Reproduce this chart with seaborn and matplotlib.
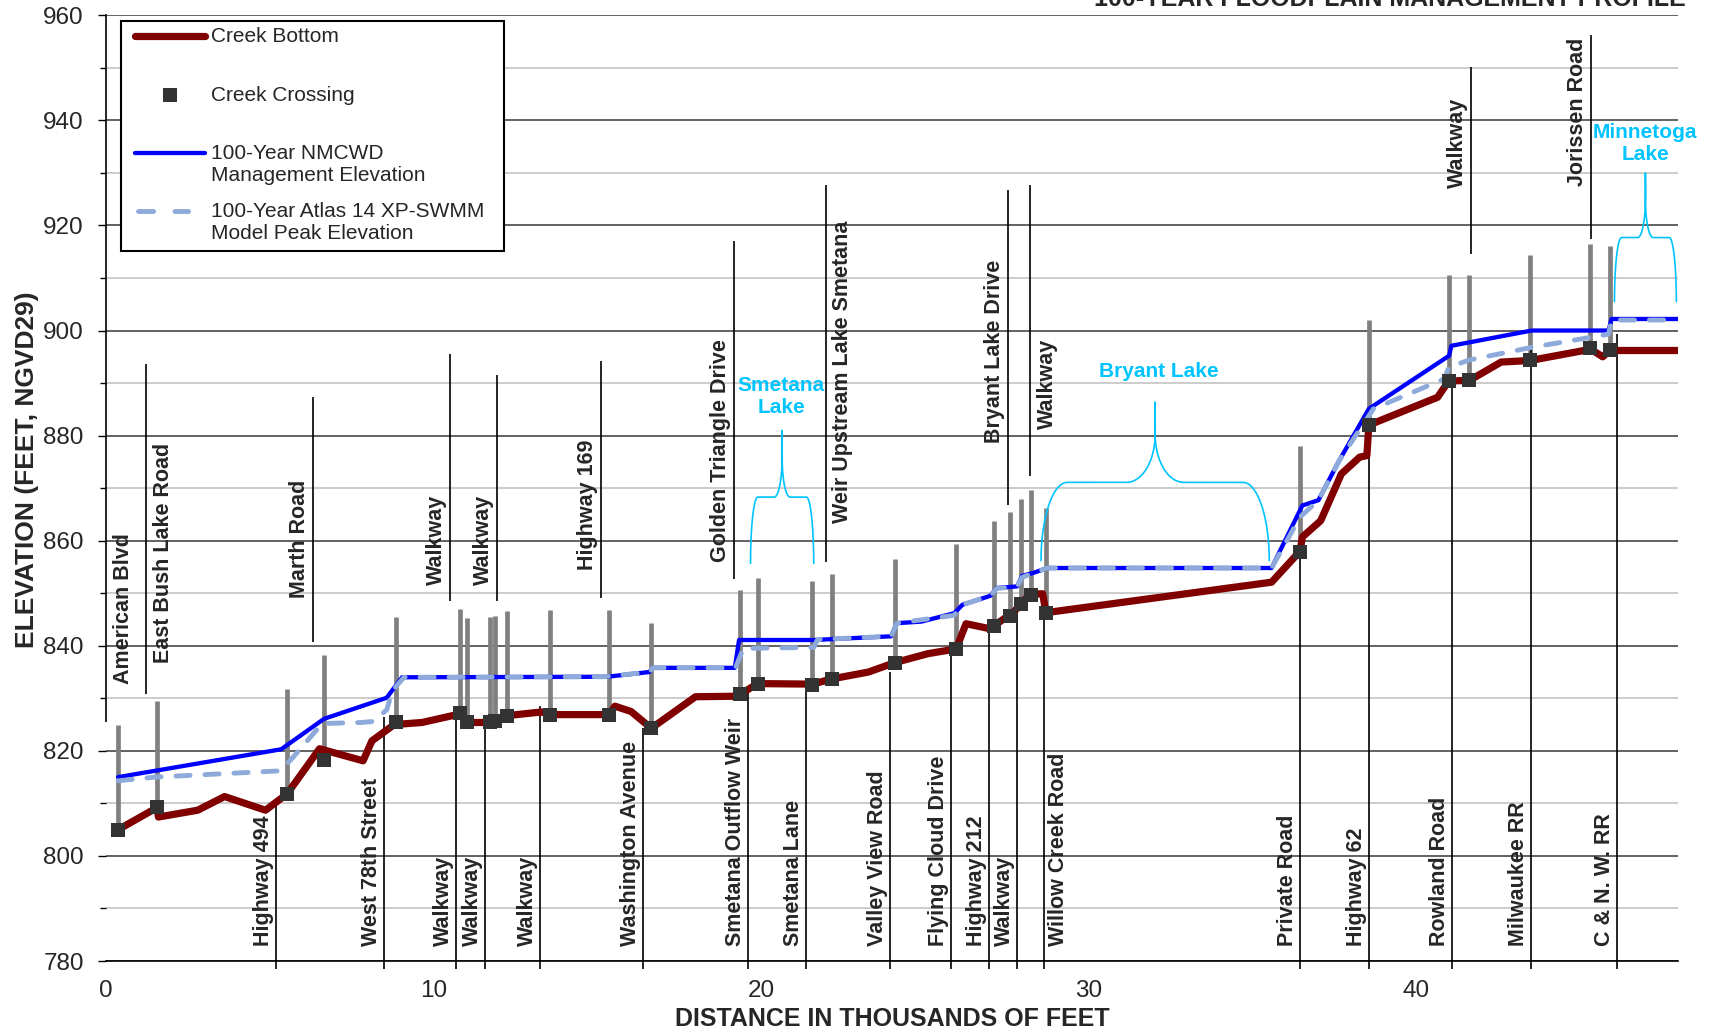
import numpy as np
import pandas as pd
import matplotlib
matplotlib.use("Agg")
import matplotlib.pyplot as plt
import seaborn as sns
from matplotlib.lines import Line2D
from matplotlib.patches import Rectangle
from matplotlib.ticker import MultipleLocator

# ---------------- profile data (distance in 1000 ft, elevation in ft NGVD29) ----------------
bottom_x = [0.37, 1.56, 1.60, 2.80, 3.62, 4.87, 5.53, 6.52, 7.85, 8.12, 8.80, 9.65, 10.65, 10.80,
            11.03, 11.73, 11.87, 12.24, 13.30, 13.55, 15.36, 15.54, 16.03, 16.65, 18.00, 19.33,
            19.37, 19.90, 21.57, 22.17, 23.28, 24.09, 25.10, 25.96, 26.26, 27.02, 27.12, 27.50,
            27.61, 27.93, 28.20, 28.60, 28.70, 35.59, 36.46, 36.53, 37.09, 37.72, 38.28, 38.50,
            38.56, 40.66, 41.00, 41.63, 42.60, 43.49, 45.13, 45.30, 45.70, 45.92, 48.00]
bottom_y = [805.0, 809.2, 807.4, 808.7, 811.3, 808.7, 811.8, 820.4, 818.1, 821.9, 825.0, 825.4,
            826.8, 827.2, 825.4, 825.4, 825.7, 826.7, 827.4, 826.9, 826.9, 828.5, 827.5, 824.3,
            830.3, 830.4, 830.8, 832.8, 832.7, 833.7, 835.0, 836.8, 838.5, 839.4, 844.2, 843.2,
            843.8, 845.5, 845.7, 847.9, 849.8, 849.9, 846.3, 852.1, 858.0, 860.7, 863.8, 872.7,
            875.9, 876.2, 882.0, 887.3, 890.4, 890.5, 894.0, 894.3, 896.2, 896.6, 895.0, 896.2,
            896.2]

nmcwd_x = [0.37, 5.35, 6.66, 8.57, 9.04, 15.30, 16.59, 16.69, 19.20, 19.33, 21.61, 23.97, 24.15,
           24.90, 25.90, 26.15, 27.00, 27.20, 27.82, 27.97, 28.33, 28.74, 35.59, 36.53, 37.02,
           37.65, 38.56, 41.01, 41.08, 43.53, 45.88, 45.97, 48.00]
nmcwd_y = [815.0, 820.3, 826.1, 830.1, 834.0, 834.1, 835.0, 835.8, 835.8, 841.1, 841.1, 841.8,
           844.3, 844.6, 846.2, 847.8, 849.5, 851.0, 851.3, 853.3, 853.9, 854.8, 854.8, 866.7,
           867.7, 875.2, 885.1, 895.2, 897.1, 900.0, 900.0, 902.2, 902.2]

atlas_x = [0.37, 1.50, 5.33, 5.70, 6.60, 7.80, 8.16, 8.57, 8.75, 9.10, 15.20, 16.59, 16.69, 19.22,
           19.46, 21.61, 21.73, 23.97, 24.15, 25.90, 26.15, 27.00, 27.20, 27.82, 27.97, 28.33,
           28.74, 35.59, 36.46, 37.02, 37.65, 38.70, 40.87, 41.00, 41.63, 43.53, 45.42, 45.88,
           45.97, 48.00]
atlas_y = [814.3, 815.0, 816.2, 818.7, 825.2, 825.4, 825.6, 827.8, 831.5, 834.0, 834.1, 835.0,
           835.8, 835.8, 839.5, 839.7, 841.2, 841.8, 844.3, 845.8, 847.8, 849.5, 850.9, 851.3,
           853.0, 853.9, 854.8, 854.8, 864.5, 867.7, 875.2, 885.1, 890.8, 893.0, 894.4, 896.8,
           898.8, 899.3, 902.0, 902.0]

# creek crossings: invert elevation and top of structure
crossing_x = [0.37, 1.56, 5.53, 6.66, 8.86, 10.80, 11.03, 11.73, 11.87, 12.24, 13.55, 15.36,
              16.65, 19.37, 19.90, 21.57, 22.17, 24.09, 25.96, 27.12, 27.61, 27.93, 28.24, 28.70,
              36.46, 38.56, 41.00, 41.63, 43.49, 45.30, 45.92]
crossing_bottom = [805.0, 809.4, 811.8, 818.3, 825.4, 827.2, 825.4, 825.4, 825.7, 826.7, 826.9,
                   826.9, 824.3, 830.8, 832.8, 832.6, 833.7, 836.8, 839.4, 843.8, 845.7, 847.9,
                   849.7, 846.3, 857.9, 882.0, 890.4, 890.5, 894.3, 896.6, 896.2]
crossing_top = [825.0, 829.4, 831.8, 838.3, 845.4, 847.0, 845.3, 845.4, 845.7, 846.7, 846.9,
                846.9, 844.3, 850.7, 852.9, 852.4, 853.7, 856.6, 859.4, 863.7, 865.5, 867.9,
                869.6, 866.2, 878.0, 902.0, 910.5, 910.5, 914.3, 916.5, 916.1]

# crossings labelled above the profile
upper_names = ["American Blvd", "East Bush Lake Road", "Marth Road", "Walkway", "Walkway",
               "Highway 169", "Golden Triangle Drive", "Weir Upstream Lake Smetana",
               "Bryant Lake Drive", "Walkway", "Walkway", "Jorissen Road"]
upper_x = [0.0, 1.21, 6.31, 10.50, 11.93, 15.10, 19.17, 21.97, 27.54, 28.20, 41.67, 45.35]
upper_low = [825.5, 830.8, 840.8, 848.5, 848.5, 849.0, 852.8, 855.9, 866.8, 872.3, 914.6, 917.4]
upper_high = [890.0, 893.6, 887.4, 895.6, 891.5, 894.2, 917.0, 927.7, 926.7, 927.7, 950.2, 956.3]
upper_label_y = [832.7, 836.7, 849.0, 851.6, 851.6, 854.4, 856.0, 863.3, 878.5, 881.2, 927.1, 927.6]
upper_label_side = ["right", "right", "left", "left", "left", "left", "left", "right", "left",
                    "right", "left", "left"]

# crossings labelled below the profile
lower_names = ["Highway 494", "West 78th Street", "Walkway", "Walkway", "Walkway",
               "Washington Avenue", "Smetana Outflow Weir", "Smetana Lane", "Valley View Road",
               "Flying Cloud Drive", "Highway 212", "Walkway", "Willow Creek Road",
               "Private Road", "Highway 62", "Rowland Road", "Milwaukee RR", "C & N. W. RR"]
lower_x = [5.19, 8.49, 10.70, 11.57, 13.24, 16.40, 19.60, 21.38, 23.93, 25.81, 26.95, 27.83,
           28.63, 36.46, 38.56, 41.10, 43.50, 46.13]
lower_high = [810.7, 826.4, 826.4, 825.4, 828.6, 824.4, 831.5, 832.0, 835.0, 839.3, 843.3,
              846.5, 846.2, 857.9, 881.6, 889.2, 896.8, 899.4]
lower_label_side = ["left"] * 12 + ["right"] + ["left"] * 5

# lakes along the creek
lake_names = ["Smetana\nLake", "Bryant Lake", "Minnetoga\nLake"]
lake_start = [19.68, 28.55, 46.06]
lake_end = [21.61, 35.52, 47.95]
lake_leg = [855.7, 856.2, 905.5]
lake_brace = [868.3, 871.1, 917.7]
lake_peak = [881.0, 886.4, 930.0]
lake_label_x = [20.62, 32.15, 47.0]
lake_label_y = [887.5, 892.2, 935.6]

# ---------------- styling ----------------
C_BOTTOM = "#800000"
C_NMCWD = "#0000ff"
C_ATLAS = "#8eaadb"
C_CROSS = "#333333"
C_BAR = "#808080"
C_LAKE = "#00c4ff"

sns.set_style("white")
plt.rcParams["font.family"] = ["Liberation Sans", "DejaVu Sans"]
plt.rcParams["lines.scale_dashes"] = False

FIG_W, FIG_H = 1714, 1032
AX_L, AX_R, AX_T, AX_B = 106, 1678, 15.3, 961

fig = plt.figure(figsize=(FIG_W / 100, FIG_H / 100), dpi=100)
ax = fig.add_axes([AX_L / FIG_W, 1 - AX_B / FIG_H, (AX_R - AX_L) / FIG_W, (AX_B - AX_T) / FIG_H])


def axfrac(xp, yp):
    return (xp - AX_L) / (AX_R - AX_L), (AX_B - yp) / (AX_B - AX_T)


# gray structure bars and black reference lines
ax.vlines(crossing_x, crossing_bottom, crossing_top, color=C_BAR, lw=3.4, zorder=2)
ax.vlines(upper_x, upper_low, upper_high, color="black", lw=1.2, zorder=2.5, clip_on=False)
ax.vlines(lower_x, 778.4, lower_high, color="black", lw=1.2, zorder=2.5, clip_on=False)


# lake braces
def brace_path(x0, x1, yb, yf, yp):
    w = x1 - x0
    xm = 0.5 * (x0 + x1)
    rl, rc, hc = 0.115 * w, 0.125 * w, 0.6 * (yp - yf)
    t = np.linspace(0, np.pi / 2, 40)
    leg_x = x0 + rl - rl * np.cos(t)
    leg_y = yb + (yf - yb) * np.sin(t)
    cusp_x = xm - rc + rc * np.sin(t)
    cusp_y = yf + hc - hc * np.cos(t)
    hx = np.concatenate([leg_x, cusp_x, [xm]])
    hy = np.concatenate([leg_y, cusp_y, [yp]])
    xs = np.concatenate([hx, (2 * xm - hx)[::-1]])
    ys = np.concatenate([hy, hy[::-1]])
    return xs, ys


for name, x0, x1, yb, yf, yp, lx, ly in zip(lake_names, lake_start, lake_end, lake_leg,
                                             lake_brace, lake_peak, lake_label_x, lake_label_y):
    bx, by = brace_path(x0, x1, yb, yf, yp)
    ax.plot(bx, by, color=C_LAKE, lw=1.2, zorder=3, clip_on=False)
    ax.text(lx, ly, name, color=C_LAKE, fontsize=15, fontweight="bold", ha="center",
            va="center", linespacing=1.22, zorder=3)

# profile lines
sns.lineplot(x=nmcwd_x, y=nmcwd_y, sort=False, estimator=None, errorbar=None, ax=ax,
             color=C_NMCWD, linewidth=3.1, zorder=4, solid_joinstyle="round")
sns.lineplot(x=atlas_x, y=atlas_y, sort=False, estimator=None, errorbar=None, ax=ax,
             color=C_ATLAS, linewidth=3.5, zorder=5, linestyle=(0, (10.2, 10.7)),
             dash_capstyle="round", dash_joinstyle="round")
sns.lineplot(x=bottom_x, y=bottom_y, sort=False, estimator=None, errorbar=None, ax=ax,
             color=C_BOTTOM, linewidth=5.2, zorder=6, solid_joinstyle="round",
             solid_capstyle="round")
sns.scatterplot(x=crossing_x, y=crossing_bottom, marker="s", s=94, color=C_CROSS,
                linewidth=0, zorder=7, ax=ax, legend=False)

# road labels
for name, x, ly, side in zip(upper_names, upper_x, upper_label_y, upper_label_side):
    dx = 5 if side == "right" else -2
    ax.annotate(name, (x, ly), xytext=(dx, 0), textcoords="offset points", rotation=90,
                ha="left" if side == "right" else "right", va="bottom", fontsize=15.5,
                fontweight="bold", zorder=8)
for name, x, side in zip(lower_names, lower_x, lower_label_side):
    dx = 3 if side == "right" else -1.5
    ax.annotate(name, (x, 782.8), xytext=(dx, 0), textcoords="offset points", rotation=90,
                ha="left" if side == "right" else "right", va="bottom", fontsize=15.5,
                fontweight="bold", zorder=8)

# axes, ticks and grid
ax.set_xlim(0, 48)
ax.set_ylim(780, 960)
ax.xaxis.set_major_locator(MultipleLocator(10))
ax.xaxis.set_minor_locator(MultipleLocator(1))
ax.yaxis.set_major_locator(MultipleLocator(20))
ax.yaxis.set_minor_locator(MultipleLocator(10))
ax.set_axisbelow(True)
ax.grid(True, which="major", axis="y", color="#555555", lw=1.3)
ax.grid(True, which="minor", axis="y", color="#c8c8c8", lw=1.3)
ax.grid(False, axis="x", which="both")

ax.tick_params(axis="x", which="major", direction="inout", length=7, width=1.0,
               labelsize=17.5, pad=10, color="black")
ax.tick_params(axis="x", which="minor", direction="in", length=4, width=1.0, color="black")
ax.tick_params(axis="y", which="major", direction="out", length=6, width=1.0,
               labelsize=17.5, pad=10, color="black", left=True)
ax.tick_params(axis="y", which="minor", direction="out", length=4, width=1.0, color="black",
               left=True)

for side in ("top", "right"):
    ax.spines[side].set_visible(False)
ax.spines["left"].set_bounds(890, 960)
ax.spines["left"].set_color("black")
ax.spines["left"].set_linewidth(1.2)
ax.spines["bottom"].set_color("black")
ax.spines["bottom"].set_linewidth(1.2)

ax.set_xlabel("DISTANCE IN THOUSANDS OF FEET", fontsize=18, fontweight="bold")
ax.xaxis.set_label_coords(0.5, -0.0486)
ax.set_ylabel("ELEVATION (FEET, NGVD29)", fontsize=19, fontweight="bold")
ax.yaxis.set_label_coords(-0.0425, 0.519)

fig.text(1686 / FIG_W, 1 - 5.5 / FIG_H, "100-YEAR FLOODPLAIN MANAGEMENT PROFILE",
         ha="right", va="baseline", fontsize=18, fontweight="bold")

# legend box
lx0, ly0 = axfrac(121, 251)
lx1, ly1 = axfrac(504, 20.7)
ax.add_patch(Rectangle((lx0, ly0), lx1 - lx0, ly1 - ly0, transform=ax.transAxes,
                       facecolor="white", edgecolor="black", lw=1.5, zorder=10, clip_on=False))
h0, _ = axfrac(134.5, 0)
h1, _ = axfrac(205, 0)
tx, _ = axfrac(210.7, 0)
_, r1 = axfrac(0, 36.5)
_, r2 = axfrac(0, 95.5)
_, r3 = axfrac(0, 153)
_, r3m = axfrac(0, 165)
_, r4 = axfrac(0, 210.7)
_, r4m = axfrac(0, 222.8)
mx, _ = axfrac(170, 0)
d0, _ = axfrac(137.7, 0)
d1, _ = axfrac(188.4, 0)
ax.add_line(Line2D([h0, h1], [r1, r1], transform=ax.transAxes, color=C_BOTTOM, lw=5.2,
                   solid_capstyle="round", zorder=11, clip_on=False))
ax.add_line(Line2D([mx], [r2], transform=ax.transAxes, marker="s", ms=9.7, color=C_CROSS,
                   mew=0, ls="none", zorder=11, clip_on=False))
ax.add_line(Line2D([h0, h1], [r3, r3], transform=ax.transAxes, color=C_NMCWD, lw=3.1,
                   solid_capstyle="round", zorder=11, clip_on=False))
ax.add_line(Line2D([d0, d1], [r4, r4], transform=ax.transAxes, color=C_ATLAS, lw=3.5,
                   linestyle=(0, (10.9, 15.4)), dash_capstyle="round", zorder=11,
                   clip_on=False))
legend_labels = ["Creek Bottom", "Creek Crossing", "100-Year NMCWD\nManagement Elevation",
                 "100-Year Atlas 14 XP-SWMM\nModel Peak Elevation"]
for lab, yy in zip(legend_labels, [r1, r2, r3m, r4m]):
    ax.text(tx, yy, lab, transform=ax.transAxes, fontsize=15, va="center", ha="left",
            zorder=12)

fig.savefig("out.png", dpi=100)
